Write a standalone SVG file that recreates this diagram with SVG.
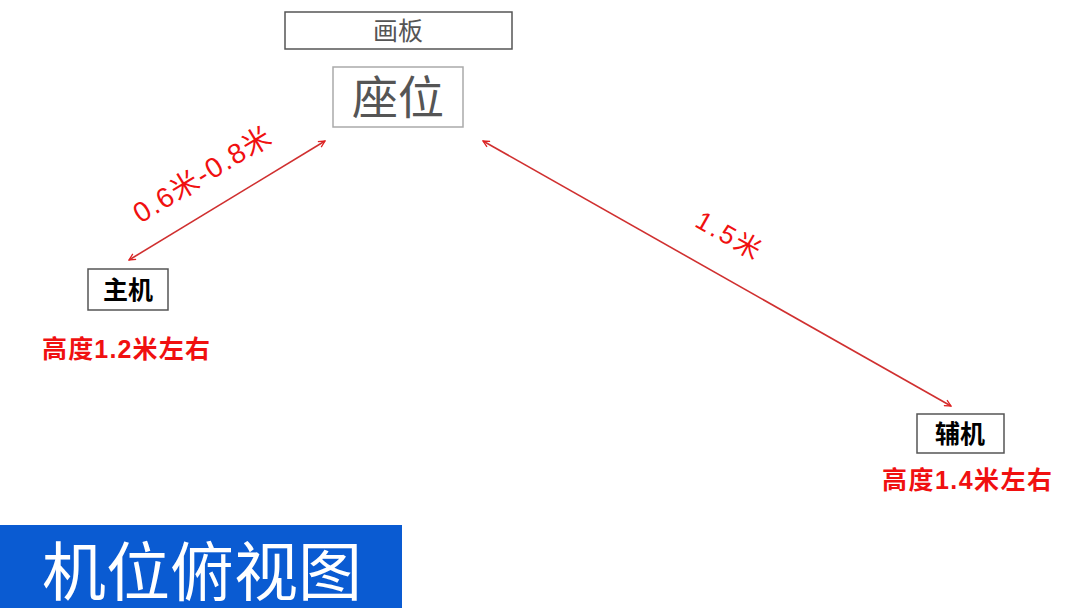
<svg xmlns="http://www.w3.org/2000/svg" width="1080" height="608" viewBox="0 0 1080 608">
<style>
.box{fill:#fff;stroke:#555;stroke-width:1.5}
.lbl{font-family:"Liberation Sans","Noto Sans CJK SC",sans-serif;text-anchor:middle}
.red{fill:#f01010;font-family:"Liberation Sans","Noto Sans CJK SC",sans-serif}
.conn{stroke:#d03030;stroke-width:1.6;fill:none;marker-start:url(#ah);marker-end:url(#ah)}
</style>
<defs>
<marker id="ah" viewBox="0 0 10 10" refX="9" refY="5" markerWidth="8" markerHeight="8" orient="auto-start-reverse" markerUnits="userSpaceOnUse">
<path d="M1,1 L9,5 L1,9" fill="none" stroke="#e02020" stroke-width="1.6"/>
</marker>
</defs>
<rect width="1080" height="608" fill="#fff"/>
<g id="huaban">
<rect x="285" y="12" width="227" height="37" class="box"/>
<text x="398" y="40" class="lbl" font-size="25" fill="#555">画板</text>
</g>
<g id="zuowei">
<rect x="333" y="67" width="130" height="60" fill="#fff" stroke="#aaa" stroke-width="1.5"/>
<text x="398" y="114" class="lbl" font-size="46" fill="#555">座位</text>
</g>
<g id="zhuji">
<rect x="88" y="269" width="80" height="41" class="box"/>
<text x="128" y="299" class="lbl" font-size="25" font-weight="bold" fill="#000">主机</text>
<text x="42" y="358" class="red" font-size="25" font-weight="bold" textLength="168" lengthAdjust="spacing">高度1.2米左右</text>
</g>
<g id="fuji">
<rect x="917" y="414" width="87" height="39" class="box"/>
<text x="960" y="443" class="lbl" font-size="25" font-weight="bold" fill="#000">辅机</text>
<text x="882" y="489" class="red" font-size="25" font-weight="bold" textLength="170" lengthAdjust="spacing">高度1.4米左右</text>
</g>
<g id="connectors">
<line x1="129" y1="260" x2="325" y2="141" class="conn"/>
<line x1="483" y1="141" x2="951" y2="406" class="conn"/>
<text transform="translate(207,183) rotate(-31.5)" class="red" font-size="28" text-anchor="middle" textLength="156" lengthAdjust="spacing">0.6米-0.8米</text>
<text transform="translate(724,243) rotate(29.6)" class="red" font-size="26" text-anchor="middle" textLength="70" lengthAdjust="spacing">1.5米</text>
</g>
<g id="title">
<rect x="0" y="525" width="402" height="83" fill="#0a5bd2"/>
<text x="202" y="595" class="lbl" font-size="64" fill="#fff">机位俯视图</text>
</g>
</svg>
